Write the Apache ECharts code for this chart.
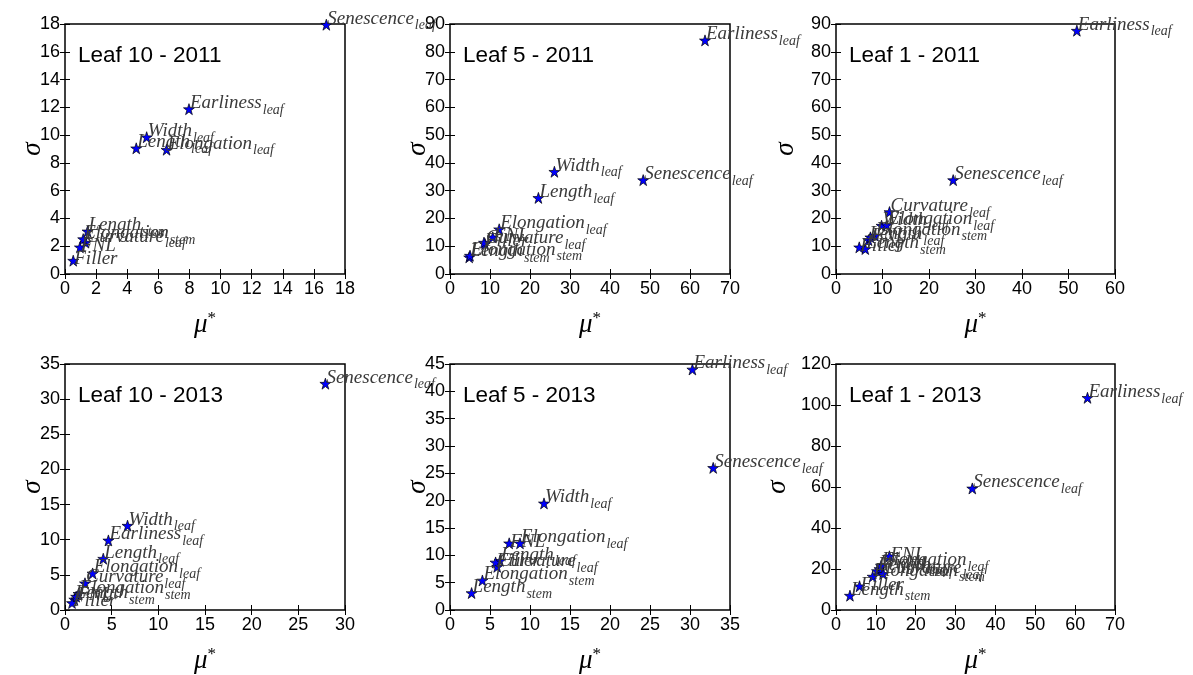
<!DOCTYPE html>
<html>
<head>
<meta charset="utf-8">
<script src="https://cdn.jsdelivr.net/npm/echarts@6/dist/echarts.min.js"></script>
<style>html,body{margin:0;padding:0;background:#fff}#c{width:1193px;height:675px}</style>
</head>
<body>
<div id="c"></div>
<script>
// Parameter names (main_subscript)
const params = ['Length_leaf','Width_leaf','Elongation_leaf','Curvature_leaf','Earliness_leaf','Senescence_leaf','Length_stem','Elongation_stem','FNL','Filler'];

// Panel titles
const titles = ['Leaf 10 - 2011','Leaf 5 - 2011','Leaf 1 - 2011','Leaf 10 - 2013','Leaf 5 - 2013','Leaf 1 - 2013'];

// mu* and sigma per panel (same order as params)
const leaf10_2011_mu    = [4.58, 5.25, 6.53, 1.32, 7.97, 16.8, 1.45, 1.17, 0.96, 0.53];
const leaf10_2011_sigma = [9.05, 9.85, 8.95, 2.26, 11.87, 17.95, 3.07, 2.51, 1.92, 0.96];

const leaf5_2011_mu     = [22.1, 26.1, 12.3, 8.75, 63.75, 48.3, 4.8, 5.0, 10.7, 8.5];
const leaf5_2011_sigma  = [27.4, 36.8, 16.1, 10.8, 84.1, 33.8, 6.0, 6.6, 13.2, 11.3];

const leaf1_2011_mu     = [7.0, 9.8, 10.9, 11.5, 51.8, 25.2, 6.3, 8.4, 7.4, 5.0];
const leaf1_2011_sigma  = [12.2, 17.4, 17.6, 22.3, 87.6, 33.8, 9.0, 13.8, 13.2, 9.6];

const leaf10_2013_mu    = [4.1, 6.7, 2.96, 2.14, 4.65, 27.9, 1.0, 1.45, 1.2, 0.75];
const leaf10_2013_sigma = [7.3, 12.0, 5.2, 3.8, 9.9, 32.2, 1.5, 2.3, 1.9, 1.0];

const leaf5_2013_mu     = [6.25, 11.75, 8.75, 5.9, 30.3, 32.9, 2.7, 4.05, 7.4, 5.7];
const leaf5_2013_sigma  = [9.0, 19.5, 12.2, 7.9, 44.0, 26.0, 3.1, 5.4, 12.2, 8.7];

const leaf1_2013_mu     = [10.3, 10.9, 11.3, 11.8, 63.1, 34.2, 3.5, 9.2, 13.4, 5.9];
const leaf1_2013_sigma  = [19.0, 20.0, 21.5, 17.6, 103.5, 59.3, 7.0, 16.3, 26.2, 11.6];

// Axis ranges
const xMax = [18, 70, 60, 30, 35, 70];
const xInt = [2, 10, 10, 5, 5, 10];
const yMax = [18, 90, 90, 35, 45, 120];
const yInt = [2, 10, 10, 5, 5, 20];

const muList = [leaf10_2011_mu, leaf5_2011_mu, leaf1_2011_mu, leaf10_2013_mu, leaf5_2013_mu, leaf1_2013_mu];
const sigmaList = [leaf10_2011_sigma, leaf5_2011_sigma, leaf1_2011_sigma, leaf10_2013_sigma, leaf5_2013_sigma, leaf1_2013_sigma];

const gridPos = [
  {left: 65, top: 24, width: 280, height: 250},
  {left: 450, top: 24, width: 280, height: 250},
  {left: 836, top: 24, width: 279, height: 250},
  {left: 65, top: 364, width: 280, height: 250},
  {left: 450, top: 364, width: 280, height: 250},
  {left: 836, top: 364, width: 279, height: 250}
];
const sigmaGap = [19, 19, 37, 19, 19, 45];

const STAR = 'path://M50,0 L61.8,35.3 L98.9,35.3 L68.8,57.1 L80.3,92.7 L50,70.6 L19.7,92.7 L31.2,57.1 L1.1,35.3 L38.2,35.3 Z';
const SANS = 'Liberation Sans';
const SERIF = 'Liberation Serif';

const option = {
  backgroundColor: '#fff',
  animation: false,
  title: [], grid: [], xAxis: [], yAxis: [], series: []
};

for (let i = 0; i < 6; i++) {
  const g = gridPos[i];
  option.grid.push(Object.assign({show: true, borderColor: '#000', borderWidth: 1.5, backgroundColor: 'transparent', containLabel: false}, g));
  option.title.push({
    text: titles[i], left: g.left + 8, top: g.top + 15,
    textStyle: {fontFamily: SANS, fontSize: 22.5, fontWeight: 'normal', color: '#000'}
  });
  const tickStyle = {show: true, inside: true, length: 5, lineStyle: {color: '#000', width: 1}};
  option.xAxis.push({
    type: 'value', gridIndex: i, min: 0, max: xMax[i], interval: xInt[i], position: 'bottom',
    axisLine: {show: false}, splitLine: {show: false}, axisTick: tickStyle,
    axisLabel: {color: '#000', fontFamily: SANS, fontSize: 18, margin: 6},
    name: '{a|μ}{b|*}', nameLocation: 'middle', nameGap: 36,
    nameTextStyle: {rich: {
      a: {fontFamily: SERIF, fontStyle: 'italic', fontSize: 27, color: '#000'},
      b: {fontFamily: SERIF, fontSize: 17, color: '#000', padding: [0, 0, 12, 0]}
    }}
  });
  option.xAxis.push({
    type: 'value', gridIndex: i, min: 0, max: xMax[i], interval: xInt[i], position: 'top',
    axisLine: {show: false}, splitLine: {show: false}, axisTick: tickStyle, axisLabel: {show: false}
  });
  option.yAxis.push({
    type: 'value', gridIndex: i, min: 0, max: yMax[i], interval: yInt[i], position: 'left',
    axisLine: {show: false}, splitLine: {show: false}, axisTick: tickStyle,
    axisLabel: {color: '#000', fontFamily: SANS, fontSize: 18, margin: 5},
    name: 'σ', nameLocation: 'middle', nameGap: sigmaGap[i], nameRotate: 90, nameMoveOverlap: false,
    nameTextStyle: {fontFamily: SERIF, fontStyle: 'italic', fontSize: 27, color: '#000'}
  });
  option.yAxis.push({
    type: 'value', gridIndex: i, min: 0, max: yMax[i], interval: yInt[i], position: 'right',
    axisLine: {show: false}, splitLine: {show: false}, axisTick: tickStyle, axisLabel: {show: false}
  });
  const data = params.map((p, k) => [muList[i][k], sigmaList[i][k], p]);
  option.series.push({
    type: 'scatter', xAxisIndex: 2 * i, yAxisIndex: 2 * i, data: data, clip: false,
    symbol: STAR, symbolSize: 11,
    itemStyle: {color: '#0000ff', borderColor: '#000', borderWidth: 0.7, opacity: 1},
    label: {
      show: true, position: ['50%', '50%'], align: 'left', verticalAlign: 'bottom', offset: [1, 8],
      formatter: function (p) {
        const parts = p.data[2].split('_');
        return parts.length > 1 ? '{m|' + parts[0] + '}{s|' + parts[1] + '}' : '{m|' + parts[0] + '}';
      },
      rich: {
        m: {fontFamily: SERIF, fontStyle: 'italic', fontSize: 19, color: '#3a3a3a'},
        s: {fontFamily: SERIF, fontStyle: 'italic', fontSize: 14, color: '#3a3a3a', padding: [14, 0, 0, 1]}
      }
    },
    emphasis: {disabled: true}
  });
}

const chart = echarts.init(document.getElementById('c'), null, {renderer: 'canvas'});
chart.setOption(option);
</script>
</body>
</html>
